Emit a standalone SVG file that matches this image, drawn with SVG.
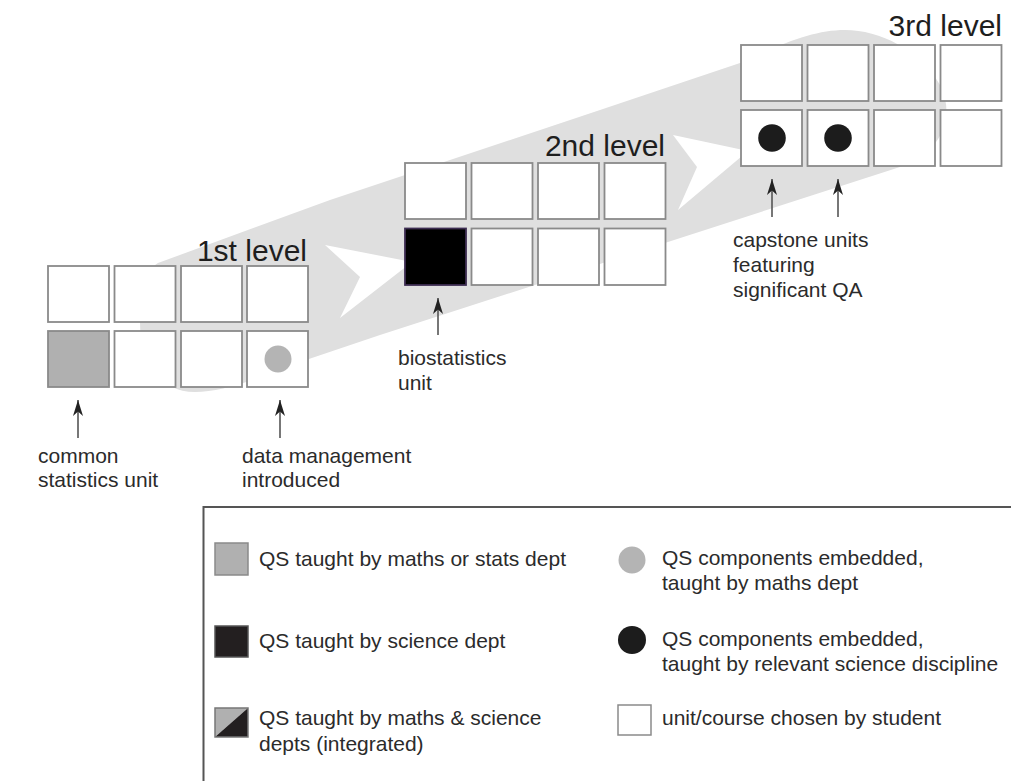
<svg xmlns="http://www.w3.org/2000/svg" width="1011" height="781" viewBox="0 0 1011 781">
<defs>
<style>
.sq{fill:#fff;stroke:#8a8a8a;stroke-width:1.8}
.t{font-family:"Liberation Sans",Arial,sans-serif;font-size:21px;fill:#2b2b2b}
.lvl{font-family:"Liberation Sans",Arial,sans-serif;font-size:30px;fill:#1e1e1e;text-anchor:end}
.ar{stroke:#555;stroke-width:1.6;fill:none;marker-end:url(#ah)}
</style>
<marker id="ah" viewBox="-17 -6 18 12" markerWidth="18" markerHeight="12" refX="0" refY="0" orient="auto" markerUnits="userSpaceOnUse">
<path d="M0,0 L-16,-5 L-11.5,0 L-16,5 Z" fill="#222"/>
</marker>
</defs>
<rect width="1011" height="781" fill="#fff"/>
<g id="band">
<path d="M158,263 L330,200 L600,110 L740,63 C785,42 815,30 845,30 C880,30 920,50 940,85 C955,115 945,150 900,167 L380,335 L300,362 C255,380 222,392 195,392 C160,392 140,362 140,322 C140,292 146,270 158,263 Z" fill="#dfdfdf"/>
<path d="M325,245 L412,262 L340,318 L360,277 Z" fill="#fff"/>
<path d="M673,135 L748,151 L678,210 L697,167 Z" fill="#fff"/>
</g>
<g id="level1">
<rect class="sq" x="48" y="266" width="61" height="56"/>
<rect class="sq" x="114.5" y="266" width="61" height="56"/>
<rect class="sq" x="181" y="266" width="61" height="56"/>
<rect class="sq" x="247" y="266" width="61" height="56"/>
<rect class="sq" x="48" y="331" width="61" height="56" style="fill:#b0b0b0"/>
<rect class="sq" x="114.5" y="331" width="61" height="56"/>
<rect class="sq" x="181" y="331" width="61" height="56"/>
<rect class="sq" x="247" y="331" width="61" height="56"/>
<circle cx="278" cy="359" r="13.5" fill="#b4b4b4"/>
<text class="lvl" x="307" y="261">1st level</text>
</g>
<g id="level2">
<rect class="sq" x="405" y="163" width="61" height="56"/>
<rect class="sq" x="471.5" y="163" width="61" height="56"/>
<rect class="sq" x="538" y="163" width="61" height="56"/>
<rect class="sq" x="604.5" y="163" width="61" height="56"/>
<rect x="405" y="228.5" width="61" height="56.5" fill="#000" stroke="#3d2d52" stroke-width="1.8"/>
<rect class="sq" x="471.5" y="228.5" width="61" height="56.5"/>
<rect class="sq" x="538" y="228.5" width="61" height="56.5"/>
<rect class="sq" x="604.5" y="228.5" width="61" height="56.5"/>
<text class="lvl" x="665" y="156">2nd level</text>
</g>
<g id="level3">
<rect class="sq" x="741" y="45" width="61" height="56"/>
<rect class="sq" x="807.5" y="45" width="61" height="56"/>
<rect class="sq" x="874" y="45" width="61" height="56"/>
<rect class="sq" x="940.5" y="45" width="61" height="56"/>
<rect class="sq" x="741" y="110" width="61" height="56"/>
<rect class="sq" x="807.5" y="110" width="61" height="56"/>
<rect class="sq" x="874" y="110" width="61" height="56"/>
<rect class="sq" x="940.5" y="110" width="61" height="56"/>
<circle cx="772" cy="138" r="13.8" fill="#1c1c1c"/>
<circle cx="838" cy="138" r="13.8" fill="#1c1c1c"/>
<text class="lvl" x="1002" y="36">3rd level</text>
</g>
<g id="connectors">
<line class="ar" x1="78" y1="438" x2="78" y2="400"/>
<line class="ar" x1="280" y1="438" x2="280" y2="400"/>
<line class="ar" x1="438" y1="335" x2="438" y2="298"/>
<line class="ar" x1="772" y1="217" x2="772" y2="179"/>
<line class="ar" x1="838" y1="217" x2="838" y2="179"/>
</g>
<g id="label-common">
<text class="t" x="38" y="463">common</text>
<text class="t" x="38" y="487">statistics unit</text>
</g>
<g id="label-data">
<text class="t" x="242" y="463">data management</text>
<text class="t" x="242" y="487">introduced</text>
</g>
<g id="label-bio">
<text class="t" x="398" y="365">biostatistics</text>
<text class="t" x="398" y="390">unit</text>
</g>
<g id="label-capstone">
<text class="t" x="733" y="247">capstone units</text>
<text class="t" x="733" y="272">featuring</text>
<text class="t" x="733" y="297">significant QA</text>
</g>
<g id="legend">
<path d="M203.5,781 L203.5,507 L1011,507" fill="none" stroke="#555" stroke-width="2"/>
<g id="leg-maths">
<rect x="215" y="543" width="33" height="32" fill="#b0b0b0" stroke="#8a8a8a" stroke-width="1.5"/>
<text class="t" x="259" y="566">QS taught by maths or stats dept</text>
</g>
<g id="leg-science">
<rect x="215" y="626" width="33" height="31" fill="#231f20" stroke="#555" stroke-width="1.5"/>
<text class="t" x="259" y="648">QS taught by science dept</text>
</g>
<g id="leg-integrated">
<path d="M215,737 L215,708 L248,708 Z" fill="#b0b0b0"/>
<path d="M215,737 L248,708 L248,737 Z" fill="#231f20"/>
<rect x="215" y="708" width="33" height="29" fill="none" stroke="#777" stroke-width="1.5"/>
<text class="t" x="259" y="725">QS taught by maths &amp; science</text>
<text class="t" x="259" y="751">depts (integrated)</text>
</g>
<g id="leg-graycircle">
<circle cx="632" cy="560" r="13.5" fill="#b4b4b4"/>
<text class="t" x="662" y="565">QS components embedded,</text>
<text class="t" x="662" y="590">taught by maths dept</text>
</g>
<g id="leg-blackcircle">
<circle cx="632" cy="640" r="14" fill="#1c1c1c"/>
<text class="t" x="662" y="646">QS components embedded,</text>
<text class="t" x="662" y="671">taught by relevant science discipline</text>
</g>
<g id="leg-white">
<rect x="618" y="705" width="33" height="30" fill="#fff" stroke="#8a8a8a" stroke-width="1.5"/>
<text class="t" x="662" y="725">unit/course chosen by student</text>
</g>
</g>
</svg>
